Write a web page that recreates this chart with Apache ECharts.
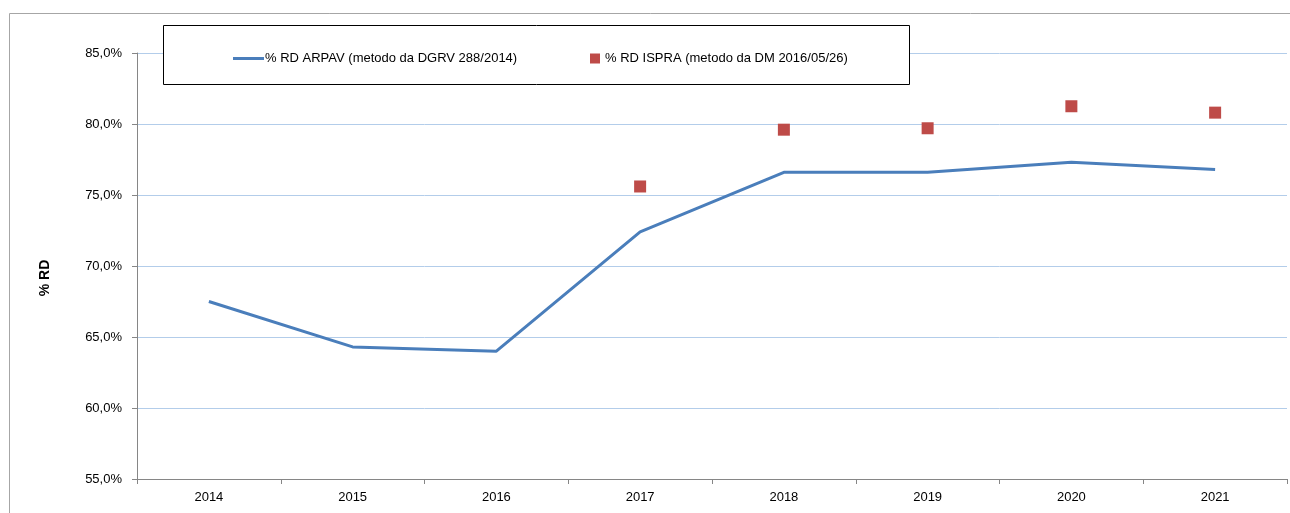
<!DOCTYPE html>
<html><head><meta charset="utf-8">
<script src="https://cdn.jsdelivr.net/npm/echarts@6/dist/echarts.min.js"></script>
<style>html,body{margin:0;padding:0;background:#fff}#c{width:1290px;height:513px}</style>
</head><body><div id="c"></div>
<script>
const years = ['2014','2015','2016','2017','2018','2019','2020','2021'];
const arpav = [67.5, 64.3, 64.0, 72.4, 76.6, 76.6, 77.3, 76.8];
const ispra = [null, null, null, 75.6, 79.6, 79.7, 81.25, 80.8];
const yTicks = [55, 60, 65, 70, 75, 80, 85];
const yTitle = '% RD';
const nameArpav = '% RD ARPAV (metodo da DGRV 288/2014)';
const nameIspra = '% RD ISPRA (metodo da DM 2016/05/26)';
const FONT = 'Liberation Sans';
const chart = echarts.init(document.getElementById('c'));
chart.setOption({
  animation: false,
  textStyle: {fontFamily: FONT},
  grid: {left: 137, right: 3, top: 53, bottom: 34, containLabel: false},
  graphic: [
    {type: 'rect', shape: {x: 9.5, y: 13.5, width: 1400, height: 700}, style: {fill: null, stroke: '#a6a6a6', lineWidth: 1}, z: -1},
    {type: 'rect', shape: {x: 163.5, y: 25.5, width: 746, height: 59}, style: {fill: '#fff', stroke: '#000', lineWidth: 1}, z: 5},
    {type: 'text', x: 45, y: 278, rotation: Math.PI / 2, z: 10,
     style: {text: yTitle, fontFamily: FONT, fontSize: 14, fontWeight: 'bold', fill: '#000', align: 'center', verticalAlign: 'middle'}}
  ],
  legend: [
    {data: [{name: nameArpav, icon: 'rect'}], left: 228, top: 47, itemWidth: 31, itemHeight: 3, itemGap: 2, z: 10,
     textStyle: {fontFamily: FONT, fontSize: 13, color: '#000', padding: [0,0,0,-4]}},
    {data: [{name: nameIspra, icon: 'rect'}], left: 585, top: 47, itemWidth: 10, itemHeight: 10, z: 10,
     textStyle: {fontFamily: FONT, fontSize: 13, color: '#000'}}
  ],
  xAxis: {
    type: 'category', data: years, boundaryGap: true,
    axisLine: {lineStyle: {color: '#868686', width: 1}},
    axisTick: {show: true, inside: false, length: 5, lineStyle: {color: '#868686'}},
    axisLabel: {color: '#000', fontSize: 13, margin: 12, fontFamily: FONT},
    splitLine: {show: false}
  },
  yAxis: {
    type: 'value', min: yTicks[0], max: yTicks[yTicks.length-1], interval: 5,
    axisLine: {show: true, lineStyle: {color: '#868686', width: 1}},
    axisTick: {show: true, inside: false, length: 5, lineStyle: {color: '#868686'}},
    axisLabel: {color: '#000', fontSize: 13, margin: 15, fontFamily: FONT,
      formatter: v => v.toFixed(1).replace('.', ',') + '%'},
    splitLine: {show: true, lineStyle: {color: '#b3cdea', width: 1}}
  },
  series: [
    {name: nameArpav, type: 'line', data: arpav, showSymbol: false, symbol: 'none',
     lineStyle: {color: '#4a7ebb', width: 3}, itemStyle: {color: '#4a7ebb'}, z: 3},
    {name: nameIspra, type: 'scatter', data: ispra, symbol: 'rect', symbolSize: 12,
     itemStyle: {color: '#be4b48', opacity: 1}, z: 4}
  ]
});
</script></body></html>
